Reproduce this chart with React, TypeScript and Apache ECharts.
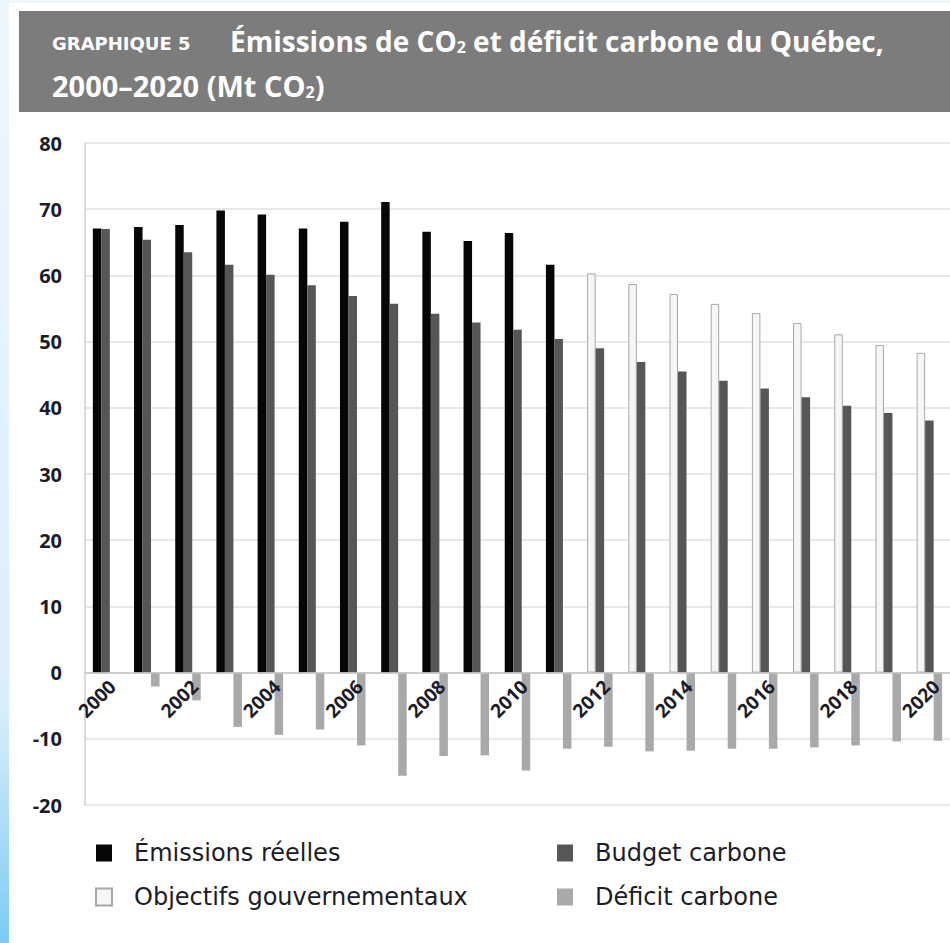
import React, { useEffect, useRef } from 'react';
import * as echarts from 'echarts';

const years = ['2000', '2001', '2002', '2003', '2004', '2005', '2006', '2007', '2008', '2009', '2010',
  '2011', '2012', '2013', '2014', '2015', '2016', '2017', '2018', '2019', '2020'];

const emissions = [67.1, 67.3, 67.6, 69.8, 69.2, 67.1, 68.1, 71.1, 66.6, 65.2, 66.4, 61.6,
  '-', '-', '-', '-', '-', '-', '-', '-', '-'];
const objectives = ['-', '-', '-', '-', '-', '-', '-', '-', '-', '-', '-', '-',
  60.3, 58.7, 57.2, 55.7, 54.3, 52.8, 51.1, 49.5, 48.3];
const budget = [67.0, 65.4, 63.5, 61.6, 60.1, 58.5, 56.9, 55.7, 54.2, 52.9, 51.8, 50.4,
  49.0, 46.9, 45.5, 44.1, 42.9, 41.6, 40.3, 39.2, 38.1];
const deficit = [0, -2.1, -4.2, -8.2, -9.4, -8.6, -11.0, -15.6, -12.6, -12.5, -14.8, -11.5,
  -11.2, -11.9, -11.8, -11.5, -11.5, -11.3, -11.0, -10.4, -10.3];

const yMin = -20;
const yMax = 80;
const yStep = 10;

const seriesNames = ['Émissions réelles', 'Objectifs gouvernementaux', 'Budget carbone', 'Déficit carbone'];
const titleLabel = 'GRAPHIQUE 5';
const titleLine1 = 'Émissions de CO{s|2} et déficit carbone du Québec,';
const titleLine2 = '2000–2020 (Mt CO{s|2})';

const FONT = 'Open Sans';
const TEXT_DARK = '#1c1c28';

export default function App() {
  const ref = useRef<HTMLDivElement>(null);

  useEffect(() => {
    document.body.style.margin = '0';
    if (!ref.current) return;
    const chart = echarts.init(ref.current, null, { renderer: 'svg' });
    const barW = 8.5;
    const gridTop = 143;
    const gridHeight = 662;
    const zeroOffset = -(gridHeight * (0 - yMin)) / (yMax - yMin);
    const titleRich = {
      s: { fontSize: 16, fontWeight: 'bold', fontFamily: FONT, color: '#ffffff', verticalAlign: 'bottom', lineHeight: 16 },
    };
    const legendText = { fontSize: 24, fontFamily: 'DejaVu Sans', color: TEXT_DARK, lineHeight: 17, padding: [0, 0, 0, 17] };
    chart.setOption({
      animation: false,
      backgroundColor: '#ffffff',
      grid: { left: 85, top: gridTop, width: 878, height: gridHeight, containLabel: false },
      xAxis: {
        type: 'category',
        data: years,
        boundaryGap: true,
        position: 'bottom',
        offset: zeroOffset,
        axisLine: { onZero: false, lineStyle: { color: '#c4c4c4', width: 1.5 } },
        axisTick: { show: false },
        axisLabel: {
          interval: 1,
          rotate: 45,
          margin: 4,
          align: 'right',
          verticalAlign: 'top',
          fontSize: 19,
          fontWeight: 'bold',
          fontFamily: FONT,
          color: TEXT_DARK,
        },
        splitLine: { show: false },
        z: 5,
      },
      yAxis: {
        type: 'value',
        min: yMin,
        max: yMax,
        interval: yStep,
        axisLine: { show: true, lineStyle: { color: '#cfcfcf', width: 1.5 } },
        axisTick: { show: false },
        axisLabel: {
          margin: 23,
          fontSize: 20,
          fontWeight: 'bold',
          fontFamily: FONT,
          color: TEXT_DARK,
        },
        splitLine: { show: true, lineStyle: { color: '#e8e8e8', width: 2 } },
      },
      legend: [
        {
          data: [seriesNames[0], seriesNames[1]],
          orient: 'vertical',
          left: 95,
          top: 841,
          padding: 0,
          icon: 'rect',
          itemWidth: 16,
          itemHeight: 17,
          itemGap: 20,
          selectedMode: false,
          textStyle: legendText,
        },
        {
          data: [seriesNames[2], seriesNames[3]],
          orient: 'vertical',
          left: 557,
          top: 841,
          padding: 0,
          icon: 'rect',
          itemWidth: 16,
          itemHeight: 17,
          itemGap: 20,
          selectedMode: false,
          textStyle: legendText,
        },
      ],
      series: [
        {
          name: seriesNames[0],
          type: 'bar',
          stack: 'main',
          data: emissions,
          barWidth: barW,
          itemStyle: { color: '#060606' },
        },
        {
          name: seriesNames[1],
          type: 'bar',
          stack: 'main',
          data: objectives,
          barWidth: barW,
          itemStyle: { color: '#f6f6f6', borderColor: '#a8a8a8', borderWidth: 1 },
        },
        {
          name: seriesNames[2],
          type: 'bar',
          data: budget,
          barWidth: barW,
          barGap: '0%',
          itemStyle: { color: '#565656' },
        },
        {
          name: seriesNames[3],
          type: 'bar',
          data: deficit,
          barWidth: barW,
          barGap: '0%',
          itemStyle: { color: '#a9a9a9' },
        },
      ],
      graphic: [
        {
          type: 'rect',
          shape: { x: 0, y: 0, width: 9, height: 943 },
          style: {
            fill: new echarts.graphic.LinearGradient(0, 0, 0, 1, [
              { offset: 0, color: '#eff7fd' },
              { offset: 0.75, color: '#d9eefb' },
              { offset: 1, color: '#7dcbf5' },
            ]),
          },
          silent: true,
        },
        {
          type: 'rect',
          shape: { x: 0, y: 0, width: 950, height: 3 },
          style: { fill: '#eff7fd' },
          silent: true,
        },
        {
          type: 'rect',
          shape: { x: 19, y: 11, width: 931, height: 101 },
          style: { fill: '#7c7c7c' },
          silent: true,
        },
        {
          type: 'text',
          x: 52,
          y: 43,
          style: {
            text: titleLabel,
            fill: '#ffffff',
            font: `bold 18px "DejaVu Sans"`,
            verticalAlign: 'middle',
          },
          silent: true,
        },
        {
          type: 'text',
          x: 230,
          y: 41,
          style: {
            text: titleLine1,
            fill: '#ffffff',
            fontSize: 28,
            fontWeight: 'bold',
            fontFamily: FONT,
            verticalAlign: 'middle',
            rich: titleRich,
          },
          silent: true,
        },
        {
          type: 'text',
          x: 52,
          y: 85,
          style: {
            text: titleLine2,
            fill: '#ffffff',
            fontSize: 29,
            fontWeight: 'bold',
            fontFamily: FONT,
            verticalAlign: 'middle',
            rich: titleRich,
          },
          silent: true,
        },
      ],
    });
    return () => chart.dispose();
  }, []);

  return <div ref={ref} style={{ width: 950, height: 943, background: '#ffffff' }} />;
}
